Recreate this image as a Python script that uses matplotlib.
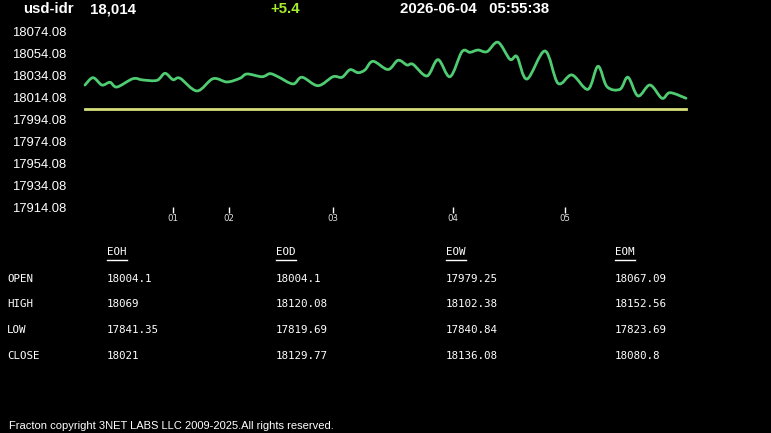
import numpy as np
import matplotlib
matplotlib.use("Agg")
import matplotlib.pyplot as plt
from matplotlib.path import Path
from matplotlib.patches import PathPatch
from matplotlib.lines import Line2D

# ---- data ----
symbol = "usd-idr"
last_price = "18,014"
change = "+5.4"
stamp = "2026-06-04   05:55:38"

t = [0, 8, 17, 25, 32, 48, 58, 72, 80, 88, 95, 112, 128, 142, 155, 162, 177,
     185, 193, 208, 217, 233, 248, 257, 265, 273, 280, 288, 303, 313, 322, 328,
     342, 353, 365, 377, 385, 393, 402, 413, 425, 432, 442, 460, 473, 487, 503,
     513, 522, 535, 543, 553, 565, 577, 585, 601]
price = [18025.6, 18032.3, 18025.6, 18028.1, 18023.8, 18031.4, 18030.2, 18029.9,
         18036.3, 18030.5, 18031.8, 18020.2, 18031.4, 18028.4, 18031.8, 18035.7,
         18033.2, 18036.0, 18033.2, 18026.6, 18032.7, 18025.0, 18033.2, 18032.7,
         18039.6, 18036.9, 18039.4, 18047.3, 18039.8, 18048.2, 18043.9, 18044.5,
         18033.9, 18048.8, 18033.2, 18056.1, 18055.5, 18057.6, 18056.1, 18064.7,
         18049.1, 18051.5, 18031.1, 18056.7, 18027.2, 18034.8, 18021.7, 18042.7,
         18024.1, 18021.7, 18032.7, 18015.6, 18025.6, 18013.5, 18018.6, 18013.5]
open_level = 18004.1

yticks = [17914.08, 17934.08, 17954.08, 17974.08, 17994.08,
          18014.08, 18034.08, 18054.08, 18074.08]
day_pos = [88, 144, 248, 368, 480]
day_labels = ["01", "02", "03", "04", "05"]

cols = ["EOH", "EOD", "EOW", "EOM"]
rows = ["OPEN", "HIGH", "LOW", "CLOSE"]
table = [["18004.1", "18004.1", "17979.25", "18067.09"],
         ["18069", "18120.08", "18102.38", "18152.56"],
         ["17841.35", "17819.69", "17840.84", "17823.69"],
         ["18021", "18129.77", "18136.08", "18080.8"]]
footer = "Fracton copyright 3NET LABS LLC 2009-2025.All rights reserved."

W, H = 771, 433
fig = plt.figure(figsize=(W / 100, H / 100), dpi=100, facecolor="black")


def fx(px):
    return px / W


def fy(py):
    return 1 - py / H


ax = fig.add_axes([fx(85), fy(207), 601 / W, 175 / H], facecolor="black")
ax.set_xlim(0, 601)
ax.set_ylim(yticks[0], yticks[-1])
for s in ax.spines.values():
    s.set_visible(False)

# smooth price line (catmull-rom as bezier path)
pts = np.column_stack([t, price]).astype(float)
verts = [tuple(pts[0])]
codes = [Path.MOVETO]
n = len(pts)
for i in range(n - 1):
    p0 = pts[max(i - 1, 0)]
    p1 = pts[i]
    p2 = pts[i + 1]
    p3 = pts[min(i + 2, n - 1)]
    c1 = p1 + (p2 - p0) / 6.0
    c2 = p2 - (p3 - p1) / 6.0
    verts += [tuple(c1), tuple(c2), tuple(p2)]
    codes += [Path.CURVE4] * 3
ax.add_patch(PathPatch(Path(verts, codes), fill=False, edgecolor="#4fcb72",
                       lw=2, clip_on=False, capstyle="round"))

ax.plot([t[0], t[-1]], [open_level, open_level], color="#d6df7a", lw=2,
        clip_on=False)

ax.set_yticks(yticks)
ax.set_yticklabels([f"{v:.2f}" for v in yticks], fontsize=9.4,
                   family="Liberation Sans", color="white")
ax.tick_params(axis="y", length=0, pad=13.5)
ax.set_xticks(day_pos)
ax.set_xticklabels(day_labels, fontsize=6.2, color="#e0e0e0")
ax.tick_params(axis="x", length=4, width=1, color="white", pad=1)

# header
hdr = dict(family="Liberation Sans", weight="bold", fontsize=10.8,
           va="center", ha="left")
fig.text(fx(23), fy(9), symbol, color="white", **hdr)
fig.text(fx(90), fy(9), last_price, color="white", **hdr)
fig.text(fx(270), fy(9), change, color="#a4ee2c", **hdr)
fig.text(fx(400), fy(9), stamp, color="white", **hdr)

# table
mono = dict(family="DejaVu Sans Mono", fontsize=7.8, color="white",
            va="center", ha="left")
col_x = [107, 276, 446, 615]
row_y = [279, 304, 330, 356]
heads = []
for cx, name in zip(col_x, cols):
    heads.append(fig.text(fx(cx), fy(252), name, **mono))
for ry, name, vals in zip(row_y, rows, table):
    fig.text(fx(7), fy(ry), name, **mono)
    for cx, v in zip(col_x, vals):
        fig.text(fx(cx), fy(ry), v, **mono)

fig.canvas.draw()
for h in heads:
    bb = h.get_window_extent()
    fig.add_artist(Line2D([bb.x0 / W, bb.x1 / W], [fy(259.5), fy(259.5)],
                          transform=fig.transFigure, color="white", lw=1))

fig.text(fx(9), fy(426), footer, family="Liberation Sans", fontsize=8,
         color="white", va="center", ha="left")

fig.savefig("out.png", dpi=100, facecolor="black")
